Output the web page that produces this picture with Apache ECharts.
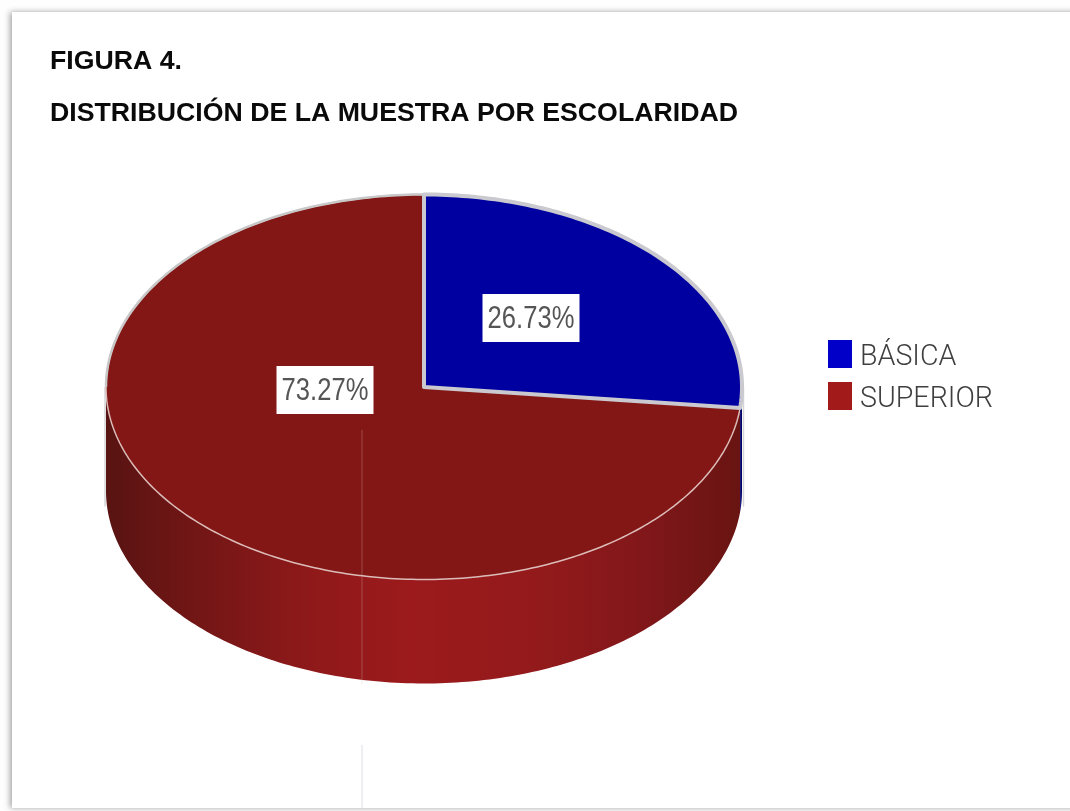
<!DOCTYPE html>
<html>
<head>
<meta charset="utf-8">
<title>Distribución de la muestra por escolaridad</title>
<style>
  html, body { margin: 0; padding: 0; background: #fff; }
  #chart { width: 1070px; height: 811px; }
</style>
<script src="https://cdn.jsdelivr.net/npm/echarts@6/dist/echarts.min.js"></script>
</head>
<body>
<div id="chart"></div>
<script>
// Datos de la figura
const categories = ['BÁSICA', 'SUPERIOR'];
const percentages = [26.73, 73.27];
const titleLines = ['FIGURA 4.', 'DISTRIBUCIÓN DE LA MUESTRA POR ESCOLARIDAD'];

// Colores por categoría
const topColors = ['#0000a0', '#831716'];
const legendColors = ['#0000c8', '#a31a1a'];
const rimColors = ['#c9c9cf', '#dcbcb8'];
const rimWidths = [4, 1.5];
const backRimColor = '#c8c8c8';
const wallStops = [
  [[0, '#00006a'], [1, '#00006a']],
  [[0, '#581412'], [0.15, '#741616'], [0.33, '#90191a'], [0.48, '#9c1a1c'],
   [0.68, '#931a1b'], [0.84, '#82171a'], [1, '#681412']]
];

// Geometría del disco en perspectiva
const disc = { cx: 424, cy: 387, rx: 318, ry: 192.5, depth: 104 };
const labelBox = { width: 97, height: 48 };
const labelCenters = [[531, 318], [325, 390]];

const pointAt = (turn) => {
  const a = turn * 2 * Math.PI;
  return [disc.cx + disc.rx * Math.sin(a), disc.cy - disc.ry * Math.cos(a)];
};

// Arco elíptico entre dos fracciones de vuelta
const arc = (from, to) => {
  const steps = Math.max(2, Math.ceil((to - from) * 360));
  const pts = [];
  for (let i = 0; i <= steps; i++) pts.push(pointAt(from + (to - from) * i / steps));
  return pts;
};

const renderSector = (params, api) => {
  const i = params.seriesIndex;
  const start = api.value(1) / 100;
  const end = start + api.value(0) / 100;
  const children = [];

  // Pared lateral: solo la mitad frontal del disco es visible
  const wallFrom = Math.max(start, 0.25);
  const wallTo = Math.min(end, 0.75);
  if (wallTo > wallFrom) {
    const upper = arc(wallFrom, wallTo);
    const lower = upper.map((p) => [p[0], p[1] + disc.depth]).reverse();
    children.push({
      type: 'polygon',
      z2: 1,
      shape: { points: upper.concat(lower) },
      style: {
        fill: {
          type: 'linear', global: true,
          x: disc.cx - disc.rx, y: 0, x2: disc.cx + disc.rx, y2: 0,
          colorStops: wallStops[i].map((s) => ({ offset: s[0], color: s[1] }))
        }
      }
    });
    // Canto vertical claro por fuera de los extremos del disco
    [[0.25, 1.5], [0.75, -1]].forEach(([t, dx]) => {
      if (t >= start && t <= end) {
        const p = pointAt(t);
        children.push({
          type: 'line', z2: 2,
          shape: { x1: p[0] + dx, y1: p[1], x2: p[0] + dx, y2: p[1] + disc.depth * 1.15 },
          style: { stroke: '#d4d4d8', lineWidth: 1.5 }
        });
      }
    });
  }

  // Cara superior del sector
  children.push({
    type: 'polygon',
    z2: 3 + (i === 0 ? 2 : 0),
    shape: { points: [[disc.cx, disc.cy]].concat(arc(start, end)) },
    style: {
      fill: topColors[i],
      stroke: rimColors[i],
      lineWidth: rimWidths[i],
      lineJoin: 'round'
    }
  });

  // Borde gris en el tramo trasero del disco
  const backFrom = Math.max(start, 0.75);
  if (end > backFrom) {
    children.push({
      type: 'polyline',
      z2: 4,
      shape: { points: arc(backFrom, end) },
      style: { stroke: backRimColor, lineWidth: 2.5, fill: 'none' }
    });
  }

  // Etiqueta de porcentaje sobre recuadro blanco
  const c = labelCenters[i];
  children.push({
    type: 'rect',
    z2: 9,
    shape: {
      x: c[0] - labelBox.width / 2,
      y: c[1] - labelBox.height / 2,
      width: labelBox.width,
      height: labelBox.height
    },
    style: { fill: '#fff' }
  });
  children.push({
    type: 'text',
    z2: 10,
    x: c[0],
    y: c[1] + 1,
    scaleX: 0.8,
    style: {
      text: api.value(0).toFixed(2) + '%',
      fontFamily: 'Liberation Sans',
      fontSize: 32,
      fill: '#555555',
      align: 'center',
      verticalAlign: 'middle'
    }
  });
  return { type: 'group', children };
};

let running = 0;
const series = categories.map((name, i) => {
  const row = [percentages[i], running];
  running += percentages[i];
  return {
    type: 'custom',
    name,
    coordinateSystem: 'none',
    renderItem: renderSector,
    z: i === 0 ? 3 : 2,
    silent: true,
    itemStyle: { color: legendColors[i] },
    data: [row]
  };
});

const chart = echarts.init(document.getElementById('chart'), null, { renderer: 'canvas' });
chart.setOption({
  animation: false,
  backgroundColor: '#fefefe',
  title: [
    { text: titleLines[0], left: 50, top: 48 },
    { text: titleLines[1], left: 50, top: 100 }
  ].map((t) => Object.assign(t, {
    padding: 0,
    textStyle: { fontFamily: 'Liberation Sans', fontWeight: 'bold', fontSize: 26.7, color: '#0a0a0a' }
  })),
  legend: {
    left: 828,
    top: 340,
    orient: 'vertical',
    padding: 0,
    icon: 'rect',
    itemWidth: 24,
    itemHeight: 28,
    itemGap: 10,
    itemStyle: { borderWidth: 0 },
    formatter: '{n|{name}}',
    textStyle: {
      rich: {
        n: { fontFamily: 'Roboto', fontWeight: 300, fontSize: 28.6, color: '#3f3f3f', padding: [7, 0, 0, 3] }
      }
    },
    data: categories,
    selectedMode: false
  },
  graphic: {
    elements: [
      // Hoja con sombra al borde
      {
        type: 'rect', z: -10,
        shape: { x: 12, y: 12, width: 1120, height: 796 },
        style: { fill: '#fff', shadowBlur: 6, shadowColor: 'rgba(0,0,0,0.36)', shadowOffsetX: -2, shadowOffsetY: -0.5 }
      },
      // Trazos finos verticales
      {
        type: 'line', z: 100,
        shape: { x1: 362, y1: 430, x2: 362, y2: 684 },
        style: { stroke: 'rgba(215,190,190,0.32)', lineWidth: 1 }
      },
      {
        type: 'line', z: 100,
        shape: { x1: 362, y1: 745, x2: 362, y2: 808 },
        style: { stroke: '#dcdce6', lineWidth: 1 }
      }
    ]
  },
  series
});
</script>
</body>
</html>
